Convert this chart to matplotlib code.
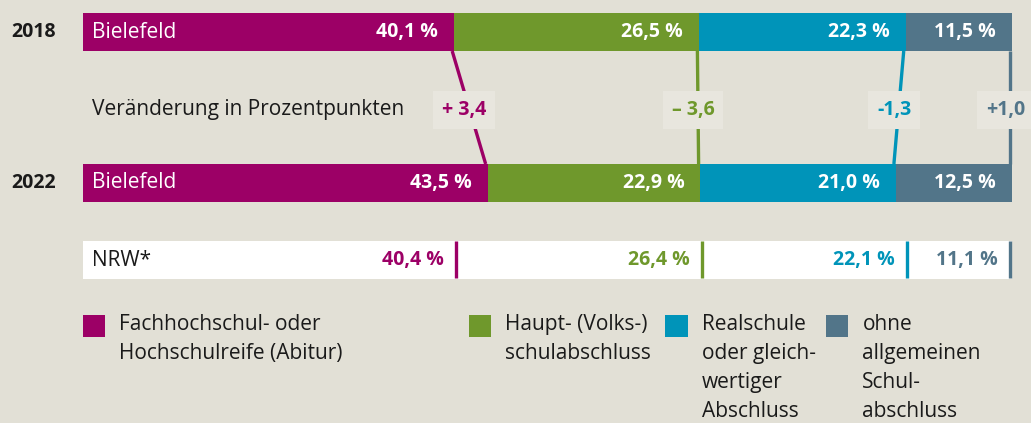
import matplotlib
matplotlib.use("Agg")
import matplotlib.pyplot as plt
import numpy as np

# donnees
categories = ["Fachhochschul- oder\nHochschulreife (Abitur)",
              "Haupt- (Volks-)\nschulabschluss",
              "Realschule\noder gleich-\nwertiger\nAbschluss",
              "ohne\nallgemeinen\nSchul-\nabschluss"]
colors = ["#9c0066", "#6f982c", "#0094b9", "#527589"]
bielefeld_2018 = [40.1, 26.5, 22.3, 11.5]
bielefeld_2022 = [43.5, 22.9, 21.0, 12.5]
nrw = [40.4, 26.4, 22.1, 11.1]
change_labels = ["+ 3,4", "\u2013 3,6", "-1,3", "+1,0"]

def fmt(v):
    return ("%.1f %%" % v).replace(".", ",")

bg = "#e2e0d6"
plt.rcParams['font.family'] = ['Open Sans', 'DejaVu Sans']
fs = 15      # texte normal
fsb = 14     # chiffres en gras
txt = "#1a1a1a"

fig = plt.figure(figsize=(10.31, 4.23), dpi=100)
fig.patch.set_facecolor(bg)
ax = fig.add_axes([0, 0, 1, 1])
ax.set_facecolor(bg)
# x : pourcentage (0 -> 83 px, 100 -> 1012 px), y : pixels
scale = 9.29
ax.set_xlim(-83 / scale, (1031 - 83) / scale)
ax.set_ylim(423, 0)
ax.axis("off")

y18, y22, ynrw, h = 32, 183, 260, 38

def edges(vals):
    v = np.array(vals) / sum(vals) * 100
    right = np.cumsum(v)
    return right - v, right

l18, r18 = edges(bielefeld_2018)
l22, r22 = edges(bielefeld_2022)
lnrw, rnrw = edges(nrw)

# barres Bielefeld
for y, vals, left, right in [(y18, bielefeld_2018, l18, r18), (y22, bielefeld_2022, l22, r22)]:
    ax.barh(y, right - left, left=left, height=h, color=colors, linewidth=0)
    for v, r in zip(vals, right):
        ax.annotate(fmt(v), (r, y), xytext=(-16, 0), textcoords="offset pixels",
                    ha="right", va="center", color="white", fontsize=fsb, fontweight="bold")
    ax.text(1.0, y, "Bielefeld", ha="left", va="center", color="white", fontsize=fs)

ax.text(-2.9, y18, "2018", ha="right", va="center", fontsize=fsb, fontweight="bold", color=txt)
ax.text(-2.9, y22, "2022", ha="right", va="center", fontsize=fsb, fontweight="bold", color=txt)

# lignes de variation
ymid = 110
for i in range(4):
    xa, xb = r18[i] - 0.2, r22[i] - 0.2
    ax.plot([xa, xb], [y18 + h / 2, y22 - h / 2], color=colors[i], lw=2.4,
            solid_capstyle="butt", zorder=1)
    ax.text((xa + xb) / 2 - 0.5, ymid, change_labels[i], ha="center", va="center",
            color=colors[i], fontsize=fsb, fontweight="bold", zorder=3,
            bbox=dict(boxstyle="square,pad=0.45", fc="#e8e6de", ec="none"))
ax.text(1.0, ymid, "Ver\u00e4nderung in Prozentpunkten", ha="left", va="center",
        fontsize=fs, color=txt)

# NRW
ax.barh(ynrw, 100, left=0, height=h, color="white", linewidth=0)
ax.text(1.0, ynrw, "NRW*", ha="left", va="center", fontsize=fs, color=txt)
for i in range(4):
    ax.plot([rnrw[i] - 0.2] * 2, [ynrw - h / 2, ynrw + h / 2 - 1], color=colors[i],
            lw=2.4, solid_capstyle="butt")
    ax.annotate(fmt(nrw[i]), (rnrw[i], ynrw), xytext=(-14, 0), textcoords="offset pixels",
                ha="right", va="center", color=colors[i], fontsize=fsb, fontweight="bold")

# legende
leg_x = [0, 41.55, 62.7, 80.0]
for i, cat in enumerate(categories):
    ax.barh(326, 2.37, left=leg_x[i], height=22, color=colors[i], linewidth=0)
    ax.text(leg_x[i] + 3.9, 314, cat, ha="left", va="top", fontsize=fs,
            color=txt, linespacing=1.5)

fig.savefig("out.png", dpi=100, facecolor=bg)
